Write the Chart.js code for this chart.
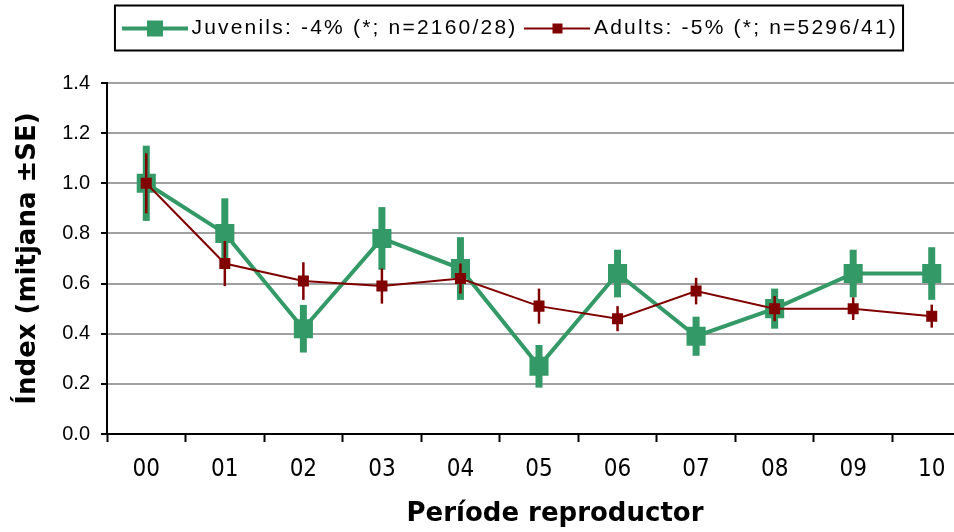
<!DOCTYPE html>
<html>
<head>
<meta charset="utf-8">
<script src="https://cdn.jsdelivr.net/npm/chart.js@4/dist/chart.umd.min.js"></script>
<style>
  html, body { margin: 0; padding: 0; overflow: hidden; background: #fff; }
  #wrap { position: relative; width: 971px; height: 532px; }
</style>
</head>
<body>
<div id="wrap"><canvas id="chart"></canvas></div>
<script>
const periods = ['00', '01', '02', '03', '04', '05', '06', '07', '08', '09', '10'];
const juvenils = [1.00, 0.80, 0.42, 0.78, 0.66, 0.27, 0.64, 0.39, 0.50, 0.64, 0.64];
const juvenilsSE = [0.15, 0.14, 0.095, 0.125, 0.125, 0.085, 0.095, 0.078, 0.08, 0.095, 0.105];
const adults = [1.00, 0.68, 0.61, 0.59, 0.62, 0.51, 0.46, 0.57, 0.50, 0.50, 0.47];
const adultsSE = [0.12, 0.09, 0.075, 0.07, 0.06, 0.07, 0.05, 0.053, 0.05, 0.045, 0.046];
const yTicks = { min: 0, max: 1.4, step: 0.2 };

const GREEN = '#339966';
const RED = '#800000';
const SANS = "'Liberation Sans', Arial, sans-serif";
const BOLD = "'DejaVu Sans', Verdana, sans-serif";

// line + square marker for the legend
function legendMarker(color, lineW, size) {
  const c = document.createElement('canvas');
  c.width = 66;
  c.height = 24;
  const g = c.getContext('2d');
  g.fillStyle = color;
  g.fillRect(0, 12 - lineW / 2, 66, lineW);
  g.fillRect(33 - size / 2, 12 - size / 2, size, size);
  return c;
}
const markers = [legendMarker(GREEN, 4, 16), legendMarker(RED, 2, 10)];

// vertical SE bars, drawn just before each dataset's line
const errorBars = {
  id: 'errorBars',
  beforeDatasetDraw(chart, args) {
    const ds = chart.data.datasets[args.index];
    const y = chart.scales.y;
    const ctx = chart.ctx;
    ctx.save();
    ctx.strokeStyle = ds.borderColor;
    ctx.lineWidth = ds.errorWidth;
    args.meta.data.forEach((pt, i) => {
      const v = ds.data[i], e = ds.errors[i];
      ctx.beginPath();
      ctx.moveTo(pt.x, y.getPixelForValue(v + e));
      ctx.lineTo(pt.x, y.getPixelForValue(v - e));
      ctx.stroke();
    });
    ctx.restore();
  }
};

// wider legend text, more room under the legend, shift it right and frame it
const legendBox = {
  id: 'legendBox',
  beforeInit(chart) {
    const lg = chart.legend;
    const spaced = fn => function (...a) {
      const old = this.ctx.letterSpacing;
      this.ctx.letterSpacing = '2.2px';
      const r = fn.apply(this, a);
      this.ctx.letterSpacing = old;
      return r;
    };
    const fit = spaced(lg.fit);
    lg.fit = function () {
      fit.call(this);
      this.height += 34;
    };
    lg.draw = spaced(lg.draw);
  },
  afterLayout(chart) {
    chart.legend.left += 28;
    chart.legend.right += 28;
    // x title sits a bit right of the plot centre in the original
    const sx = chart.scales.x;
    if (!sx._titleShifted) {
      const drawTitle = sx.drawTitle;
      sx.drawTitle = function () {
        this.ctx.save();
        this.ctx.translate(16, 0);
        drawTitle.call(this);
        this.ctx.restore();
      };
      sx._titleShifted = true;
    }
  },
  afterDraw(chart) {
    const lg = chart.legend;
    const hb = lg.legendHitBoxes;
    const cy = lg.top + 14 + 10.5;
    const left = hb[0].left - 14;
    const right = hb[hb.length - 1].left + hb[hb.length - 1].width + 5;
    const ctx = chart.ctx;
    ctx.save();
    ctx.strokeStyle = '#000';
    ctx.lineWidth = 2;
    ctx.strokeRect(left, cy - 23, right - left, 45);
    ctx.restore();
  }
};

new Chart(document.getElementById('chart'), {
  type: 'line',
  data: {
    labels: periods,
    datasets: [
      {
        label: 'Juvenils: -4% (*; n=2160/28)',
        data: juvenils,
        errors: juvenilsSE,
        errorWidth: 7,
        borderColor: GREEN,
        backgroundColor: GREEN,
        borderWidth: 4,
        pointStyle: 'rect',
        pointRadius: 13.5,
        pointBorderWidth: 0,
        pointBackgroundColor: GREEN,
        tension: 0,
        order: 1
      },
      {
        label: 'Adults: -5% (*; n=5296/41)',
        data: adults,
        errors: adultsSE,
        errorWidth: 2.5,
        borderColor: RED,
        backgroundColor: RED,
        borderWidth: 2,
        pointStyle: 'rect',
        pointRadius: 7.8,
        pointBorderWidth: 0,
        pointBackgroundColor: RED,
        tension: 0,
        order: 0
      }
    ]
  },
  options: {
    responsive: true,
    maintainAspectRatio: false,
    animation: false,
    layout: { autoPadding: false, padding: { top: 4, left: 0, right: 0, bottom: 0 } },
    plugins: {
      tooltip: { enabled: false },
      legend: {
        position: 'top',
        labels: {
          usePointStyle: true,
          pointStyleWidth: 52,
          padding: 14,
          color: '#000',
          font: { family: SANS, size: 21 },
          sort: (a, b) => a.datasetIndex - b.datasetIndex,
          generateLabels: chart => chart.data.datasets.map((ds, i) => ({
            text: ds.label,
            pointStyle: markers[i],
            fillStyle: ds.borderColor,
            strokeStyle: ds.borderColor,
            lineWidth: 0,
            fontColor: '#000',
            datasetIndex: i
          }))
        }
      }
    },
    scales: {
      x: {
        offset: true,
        grid: { offset: true, drawOnChartArea: false, tickLength: 8, tickColor: '#000', tickWidth: 2 },
        border: { color: '#000', width: 2 },
        ticks: {
          padding: 13,
          color: '#000',
          maxRotation: 0,
          font: { family: "'Liberation Sans Narrow', 'DejaVu Sans Condensed', " + SANS, size: 24 }
        },
        title: {
          display: true,
          text: 'Període reproductor',
          color: '#000',
          font: { family: BOLD, size: 26, weight: 'bold' },
          padding: { top: 0, bottom: 2 }
        },
        afterFit: s => { s.height = 98; }
      },
      y: {
        min: yTicks.min,
        max: yTicks.max,
        grid: { color: '#a0a0a0', lineWidth: 2, tickLength: 6, tickColor: '#000' },
        border: { color: '#000', width: 2 },
        ticks: {
          stepSize: yTicks.step,
          padding: 11,
          color: '#000',
          font: { family: SANS, size: 20 },
          callback: v => v.toFixed(1)
        },
        title: {
          display: true,
          text: 'Índex (mitjana ±SE)',
          color: '#000',
          font: { family: BOLD, size: 26, weight: 'bold' },
          padding: { top: 13, bottom: 0 }
        },
        afterFit: s => { s.width = 107; }
      }
    }
  },
  plugins: [errorBars, legendBox]
});
</script>
</body>
</html>
